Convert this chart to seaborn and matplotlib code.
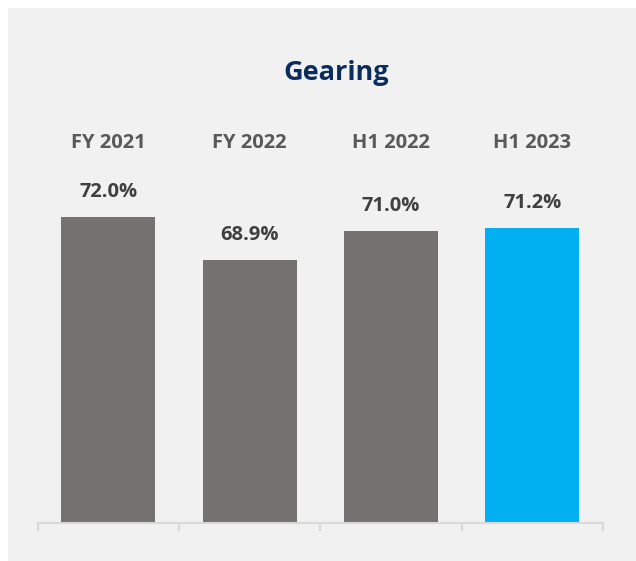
import matplotlib
matplotlib.use("Agg")
import matplotlib.pyplot as plt
from matplotlib.patches import Rectangle
import matplotlib.transforms as mtransforms
import seaborn as sns
import pandas as pd

# Gearing ratio by reporting period
categories = ["FY 2021", "FY 2022", "H1 2022", "H1 2023"]
values = [72.0, 68.9, 71.0, 71.2]
bar_colors = ["#767171", "#767171", "#767171", "#00B0F0"]
title_text = "Gearing"

sns.set_theme(style="white")
plt.rcParams["font.family"] = ["Open Sans", "DejaVu Sans"]

W, H = 636, 561
fig = plt.figure(figsize=(W / 100, H / 100), dpi=100, facecolor="white")

# light grey panel behind the chart
fig.patches.append(Rectangle((8 / W, 0), (W - 8) / W, (H - 8) / H,
                             transform=fig.transFigure, facecolor="#F1F1F1",
                             edgecolor="none", zorder=-10))

# axes box in pixel terms
x0, x1 = 37.7, 603.0
y_bottom, y_top = 522.5, 100.0
ax = fig.add_axes([x0 / W, 1 - y_bottom / H, (x1 - x0) / W, (y_bottom - y_top) / H])
ax.set_facecolor("none")

df = pd.DataFrame({"period": categories, "gearing": values})
sns.barplot(data=df, x="period", y="gearing", hue="period",
            palette=bar_colors, legend=False, width=0.665,
            saturation=1, linewidth=0, ax=ax)

px_per_unit = 13.9
ax.set_ylim(50, 50 + (y_bottom - y_top) / px_per_unit)
ax.set_xlim(-0.5, len(categories) - 0.5)

# value labels above each bar
for i, v in enumerate(values):
    ax.annotate(f"{v:.1f}%", xy=(i, v), xytext=(0, 18), textcoords="offset points",
                ha="center", va="center", fontsize=14.5, fontweight="bold",
                color="#404040")

# period names along the top
trans = mtransforms.blended_transform_factory(ax.transData, ax.transAxes)
label_y = (y_bottom - 143) / (y_bottom - y_top)
for i, c in enumerate(categories):
    ax.text(i, label_y, c, transform=trans, ha="center", va="center",
            fontsize=14.5, fontweight="bold", color="#595959")

fig.text(336.5 / W, 1 - 73 / H, title_text, ha="center", va="center",
         fontsize=19.5, fontweight="bold", color="#0B2D5E")

# category axis: only the baseline with boundary ticks
for s in ["top", "right", "left"]:
    ax.spines[s].set_visible(False)
ax.spines["bottom"].set_color("#D9D9D9")
ax.spines["bottom"].set_linewidth(1.5)
ax.set_xticks([i - 0.5 for i in range(len(categories) + 1)])
ax.set_xticklabels([])
ax.tick_params(axis="x", bottom=True, direction="out", length=6, width=1.5,
               color="#D9D9D9")
ax.set_yticks([])
ax.set_xlabel("")
ax.set_ylabel("")

fig.savefig("out.png", dpi=100, facecolor="white")
